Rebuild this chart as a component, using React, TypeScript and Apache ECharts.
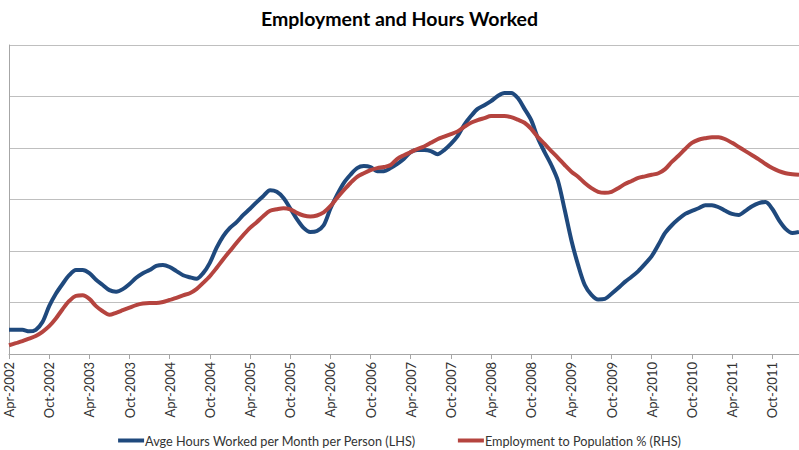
import React, { useEffect, useRef } from "react";
import * as echarts from "echarts";

const TITLE = "Employment and Hours Worked";
const SERIES_HOURS = "Avge Hours Worked per Month per Person (LHS)";
const SERIES_EMP = "Employment to Population % (RHS)";

const MONTH_NAMES = ["Jan", "Feb", "Mar", "Apr", "May", "Jun", "Jul", "Aug", "Sep", "Oct", "Nov", "Dec"];
const START_YEAR = 2002;
const START_MONTH = 3; // April (0-based)

// Monthly values, Apr-2002 .. Feb-2012
const hoursWorked = [
  84.47, 84.47, 84.47, 84.44, 84.47, 84.62, 84.93, 85.17, 85.36, 85.53,
  85.63, 85.63, 85.57, 85.44, 85.34, 85.24, 85.21, 85.26, 85.36, 85.48,
  85.57, 85.63, 85.71, 85.73, 85.69, 85.61, 85.53, 85.49, 85.46, 85.57,
  85.77, 86.06, 86.29, 86.45, 86.56, 86.70, 86.82, 86.95, 87.07, 87.18,
  87.15, 87.03, 86.83, 86.62, 86.45, 86.37, 86.39, 86.50, 86.82, 87.09,
  87.32, 87.48, 87.61, 87.65, 87.63, 87.55, 87.55, 87.61, 87.69, 87.79,
  87.92, 87.96, 87.96, 87.94, 87.88, 87.96, 88.08, 88.23, 88.45, 88.62,
  88.76, 88.83, 88.91, 89.01, 89.07, 89.07, 88.97, 88.76, 88.54, 88.19,
  87.92, 87.67, 87.36, 86.80, 86.21, 85.73, 85.34, 85.15, 85.06, 85.07,
  85.17, 85.28, 85.40, 85.50, 85.61, 85.75, 85.90, 86.12, 86.35, 86.50,
  86.62, 86.72, 86.78, 86.83, 86.89, 86.89, 86.85, 86.78, 86.72, 86.70,
  86.78, 86.87, 86.93, 86.95, 86.82, 86.60, 86.43, 86.35, 86.37,
];

const employmentToPop = [
  58.17, 58.21, 58.25, 58.30, 58.35, 58.43, 58.54, 58.69, 58.87, 59.03,
  59.13, 59.14, 59.07, 58.93, 58.83, 58.76, 58.80, 58.85, 58.90, 58.95,
  58.98, 58.99, 58.99, 59.01, 59.05, 59.09, 59.14, 59.18, 59.26, 59.38,
  59.51, 59.67, 59.84, 60.00, 60.16, 60.31, 60.45, 60.56, 60.68, 60.78,
  60.81, 60.83, 60.81, 60.74, 60.69, 60.67, 60.69, 60.75, 60.87, 61.03,
  61.18, 61.32, 61.44, 61.51, 61.57, 61.61, 61.63, 61.67, 61.79, 61.86,
  61.92, 61.98, 62.03, 62.10, 62.17, 62.22, 62.27, 62.32, 62.41, 62.49,
  62.54, 62.58, 62.62, 62.62, 62.62, 62.60, 62.55, 62.49, 62.37, 62.21,
  62.08, 61.94, 61.81, 61.67, 61.54, 61.44, 61.32, 61.22, 61.15, 61.13,
  61.15, 61.22, 61.30, 61.36, 61.42, 61.45, 61.48, 61.51, 61.59, 61.73,
  61.85, 61.98, 62.10, 62.16, 62.19, 62.21, 62.21, 62.17, 62.10, 62.02,
  61.94, 61.86, 61.78, 61.69, 61.61, 61.55, 61.51, 61.49, 61.48,
];

const categories: string[] = hoursWorked.map((_, i) => {
  const t = START_MONTH + i;
  return `${MONTH_NAMES[t % 12]}-${START_YEAR + Math.floor(t / 12)}`;
});

const FONT = "Lato, 'Liberation Sans', sans-serif";

export default function App() {
  const ref = useRef<HTMLDivElement>(null);

  useEffect(() => {
    if (!ref.current) return;
    document.body.style.margin = "0";
    document.body.style.overflow = "hidden";
    const chart = echarts.init(ref.current, undefined, { renderer: "svg" });
    chart.setOption({
      animation: false,
      backgroundColor: "#ffffff",
      title: {
        text: TITLE,
        left: "center",
        top: 3,
        textStyle: { fontFamily: FONT, fontSize: 19.5, fontWeight: "bold", color: "#000000" },
      },
      legend: {
        data: [SERIES_HOURS, SERIES_EMP],
        left: "center",
        top: 429,
        icon: "rect",
        itemWidth: 26,
        itemHeight: 4,
        itemGap: 42,
        textStyle: { fontFamily: FONT, fontSize: 12.7, color: "#333333", padding: [0, 0, 0, -4] },
      },
      grid: { left: 9, right: 0, top: 45, bottom: 96, containLabel: false },
      xAxis: {
        type: "category",
        data: categories,
        boundaryGap: false,
        axisLine: { show: true, lineStyle: { color: "#a6a6a6", width: 1 } },
        axisTick: { show: true, interval: 5, length: 5, lineStyle: { color: "#a6a6a6" } },
        axisLabel: {
          interval: 5,
          rotate: 90,
          margin: 8,
          fontFamily: FONT,
          fontSize: 13,
          color: "#333333",
        },
        splitLine: { show: false },
      },
      yAxis: [
        {
          type: "value",
          min: 84,
          max: 90,
          interval: 1,
          axisLine: { show: true, lineStyle: { color: "#a6a6a6" } },
          axisTick: { show: false },
          axisLabel: { show: false },
          splitLine: { show: true, lineStyle: { color: "#bfbfbf", width: 1 } },
        },
        {
          type: "value",
          min: 58,
          max: 64,
          interval: 1,
          position: "right",
          axisLine: { show: false },
          axisTick: { show: false },
          axisLabel: { show: false },
          splitLine: { show: false },
        },
      ],
      series: [
        {
          name: SERIES_HOURS,
          type: "line",
          yAxisIndex: 0,
          data: hoursWorked,
          smooth: 0.3,
          symbol: "none",
          lineStyle: { color: "#1F497D", width: 4 },
          itemStyle: { color: "#1F497D" },
        },
        {
          name: SERIES_EMP,
          type: "line",
          yAxisIndex: 1,
          data: employmentToPop,
          smooth: 0.3,
          symbol: "none",
          lineStyle: { color: "#B5443F", width: 4 },
          itemStyle: { color: "#B5443F" },
        },
      ],
    });
    return () => chart.dispose();
  }, []);

  return (
    <div
      ref={ref}
      style={{ position: "fixed", left: 0, top: 0, width: 799, height: 450, background: "#fff" }}
    />
  );
}
